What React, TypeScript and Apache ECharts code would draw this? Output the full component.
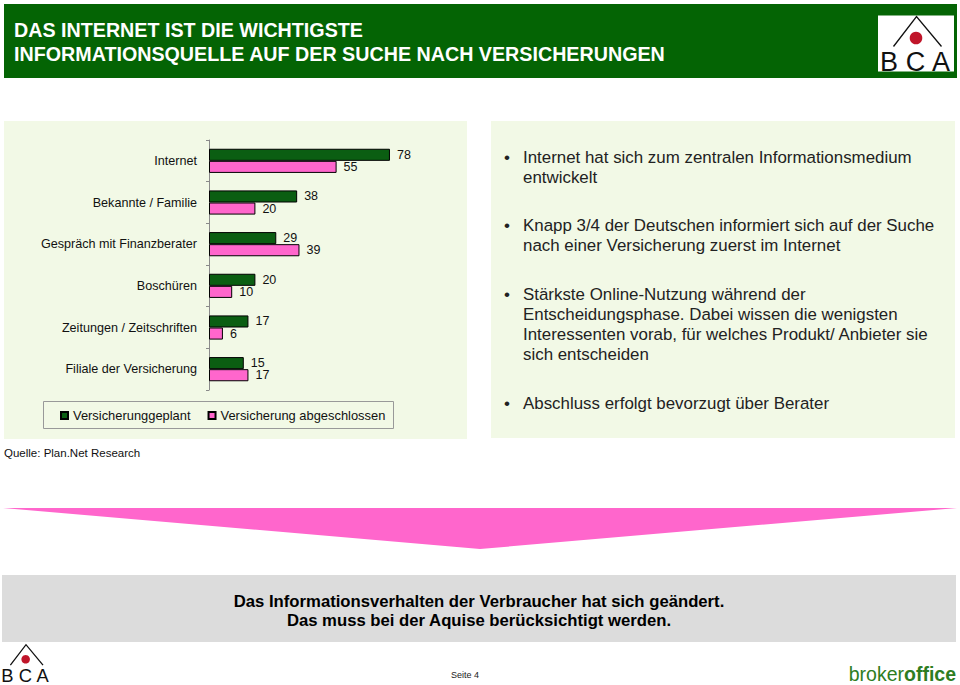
import React, { useEffect, useRef } from "react";
import * as echarts from "echarts";

const categories = [
  "Internet",
  "Bekannte / Familie",
  "Gespräch mit Finanzberater",
  "Boschüren",
  "Zeitungen / Zeitschriften",
  "Filiale der Versicherung",
];
const geplant = [78, 38, 29, 20, 17, 15];
const abgeschlossen = [55, 20, 39, 10, 6, 17];
const seriesNames = ["Versicherunggeplant", "Versicherung abgeschlossen"];

const titleLines = [
  "DAS INTERNET IST DIE WICHTIGSTE",
  "INFORMATIONSQUELLE AUF DER SUCHE NACH VERSICHERUNGEN",
];
const bulletBlocks = [
  ["Internet hat sich zum zentralen Informationsmedium", "entwickelt"],
  ["Knapp 3/4 der Deutschen informiert sich auf der Suche", "nach einer Versicherung zuerst im Internet"],
  [
    "Stärkste Online-Nutzung während der",
    "Entscheidungsphase. Dabei wissen die wenigsten",
    "Interessenten vorab, für welches Produkt/ Anbieter sie",
    "sich entscheiden",
  ],
  ["Abschluss erfolgt bevorzugt über Berater"],
];
const conclusionLines = [
  "Das Informationsverhalten der Verbraucher hat sich geändert.",
  "Das muss bei der Aquise berücksichtigt werden.",
];
const sourceText = "Quelle: Plan.Net Research";
const pageText = "Seite 4";

const FONT = "'Liberation Sans', Arial, Helvetica, sans-serif";
const GREEN_BAR = "#0b5e12";
const PINK = "#ff66cc";
const PANEL = "#f2f9e6";

export default function App() {
  const ref = useRef<HTMLDivElement>(null);

  useEffect(() => {
    if (!ref.current) return;
    const chart = echarts.init(ref.current, undefined, { renderer: "svg" });

    const bulletMids = [
      [157.3, 177.3],
      [225.7, 245.7],
      [294, 314, 334, 354],
      [403.3],
    ];
    const bulletEls: any[] = [];
    bulletBlocks.forEach((block, bi) => {
      bulletEls.push({
        type: "text",
        x: 504,
        y: bulletMids[bi][0],
        style: { text: "•", fill: "#222", font: `17px ${FONT}`, verticalAlign: "middle" },
        z: 5,
      });
      block.forEach((line, li) => {
        bulletEls.push({
          type: "text",
          x: 523,
          y: bulletMids[bi][li],
          style: { text: line, fill: "#222", font: `16.9px ${FONT}`, verticalAlign: "middle" },
          z: 5,
        });
      });
    });

    const logo = (ox: number, oy: number, s: number, withBox: boolean) => {
      const els: any[] = [];
      if (withBox) {
        els.push({ type: "rect", shape: { x: ox - 38.5, y: oy - 1, width: 76, height: 56 }, style: { fill: "#ffffff" }, z: 4 });
      }
      els.push({
        type: "polyline",
        shape: { points: [[ox - 23 * s, oy + 30 * s], [ox, oy], [ox + 25 * s, oy + 30 * s]] },
        style: { stroke: "#111", lineWidth: 1.3, fill: null },
        z: 5,
      });
      els.push({ type: "circle", shape: { cx: ox - 0.5 * s, cy: oy + 21.5 * s, r: 6.3 * s }, style: { fill: "#c0152a" }, z: 5 });
      const letters = ["B", "C", "A"];
      const offs = [-27.5, -1, 24.5];
      letters.forEach((l, i) => {
        els.push({
          type: "text",
          x: ox + offs[i] * s,
          y: oy + 45 * s,
          style: { text: l, fill: "#111", font: `${27 * s}px ${FONT}`, align: "center", verticalAlign: "middle" },
          z: 5,
        });
      });
      return els;
    };

    const option: any = {
      animation: false,
      backgroundColor: "#ffffff",
      graphic: {
        elements: [
          { type: "rect", shape: { x: 4, y: 4, width: 953, height: 74 }, style: { fill: "#046404" }, z: 0 },
          ...titleLines.map((t, i) => ({
            type: "text",
            x: 14,
            y: i === 0 ? 30 : 54,
            style: { text: t, fill: "#ffffff", font: `bold 19.7px ${FONT}`, verticalAlign: "middle" },
            z: 5,
          })),
          ...logo(916.5, 16.5, 1, true),
          { type: "rect", shape: { x: 4, y: 121, width: 463, height: 318 }, style: { fill: PANEL }, z: 0 },
          { type: "rect", shape: { x: 491, y: 121, width: 464, height: 317 }, style: { fill: PANEL }, z: 0 },
          { type: "rect", shape: { x: 43.5, y: 401.5, width: 350, height: 27 }, style: { fill: PANEL, stroke: "#999", lineWidth: 1 }, z: 1 },
          ...bulletEls,
          { type: "text", x: 4, y: 453, style: { text: sourceText, fill: "#111", font: `11.5px ${FONT}`, verticalAlign: "middle" }, z: 5 },
          { type: "polygon", shape: { points: [[3, 508], [957, 508], [480, 549]] }, style: { fill: PINK }, z: 1 },
          { type: "rect", shape: { x: 2, y: 575, width: 954, height: 67 }, style: { fill: "#dcdcdc" }, z: 0 },
          ...conclusionLines.map((t, i) => ({
            type: "text",
            x: 479,
            y: i === 0 ? 601.5 : 620,
            style: { text: t, fill: "#000", font: `bold 16.7px ${FONT}`, align: "center", verticalAlign: "middle" },
            z: 5,
          })),
          ...logo(26, 644.7, 0.68, false),
          { type: "text", x: 465, y: 675, style: { text: pageText, fill: "#222", font: `9px ${FONT}`, align: "center", verticalAlign: "middle" }, z: 5 },
          {
            type: "text",
            x: 956,
            y: 674,
            style: {
              text: "{a|broker}{b|office}",
              align: "right",
              verticalAlign: "middle",
              rich: {
                a: { fill: "#2e7d22", font: `19.5px ${FONT}` },
                b: { fill: "#2e7d22", font: `bold 19.5px ${FONT}` },
              },
            },
            z: 5,
          },
        ],
      },
      legend: {
        left: 60,
        top: 409,
        padding: 0,
        itemGap: 17,
        itemWidth: 7,
        itemHeight: 7,
        icon: "rect",
        data: seriesNames,
        textStyle: { fontFamily: FONT, fontSize: 12.9, color: "#111" },
        z: 6,
      },
      grid: { left: 209, top: 140, width: 232, height: 250, containLabel: false },
      xAxis: {
        type: "value",
        min: 0,
        max: 100,
        show: false,
      },
      yAxis: {
        type: "category",
        data: categories,
        inverse: true,
        axisLine: { show: true, lineStyle: { color: "#8a8a8a", width: 1 } },
        axisTick: { show: true, length: 3, lineStyle: { color: "#8a8a8a" } },
        axisLabel: { fontFamily: FONT, fontSize: 12.6, color: "#111", margin: 12 },
        splitLine: { show: false },
      },
      series: [
        {
          name: seriesNames[0],
          type: "bar",
          data: geplant,
          barGap: "0%",
          barCategoryGap: "42%",
          itemStyle: { color: GREEN_BAR, borderColor: "#000", borderWidth: 1 },
          label: { show: true, position: "right", distance: 7, fontFamily: FONT, fontSize: 12.5, color: "#111" },
        },
        {
          name: seriesNames[1],
          type: "bar",
          data: abgeschlossen,
          barGap: "0%",
          barCategoryGap: "42%",
          itemStyle: { color: PINK, borderColor: "#000", borderWidth: 1 },
          label: { show: true, position: "right", distance: 7, fontFamily: FONT, fontSize: 12.5, color: "#111" },
        },
      ],
    };

    chart.setOption(option);
    return () => chart.dispose();
  }, []);

  return (
    <div
      ref={ref}
      style={{ position: "absolute", left: 0, top: 0, width: 960, height: 685 }}
    />
  );
}
